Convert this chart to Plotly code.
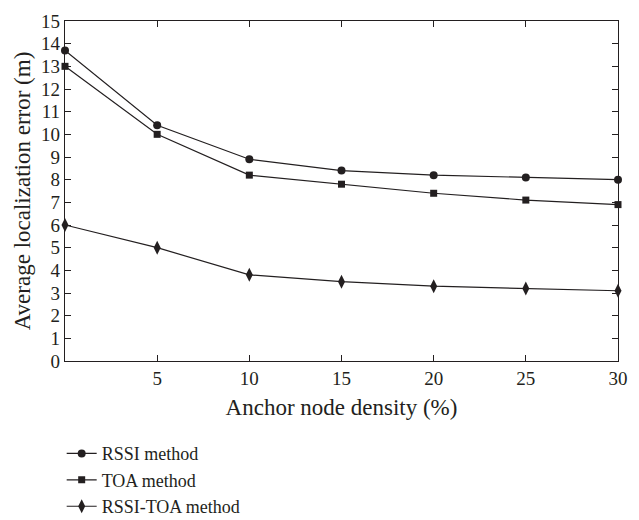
import plotly.graph_objects as go

density = [0, 5, 10, 15, 20, 25, 30]
rssi = [13.7, 10.4, 8.9, 8.4, 8.2, 8.1, 8.0]
toa = [13.0, 10.0, 8.2, 7.8, 7.4, 7.1, 6.9]
rssi_toa = [6.0, 5.0, 3.8, 3.5, 3.3, 3.2, 3.1]
x_ticks = [5, 10, 15, 20, 25, 30]
y_ticks = list(range(0, 16))

ink = "#231f20"
fig = go.Figure()
for name, ys, sym, sz in [("RSSI method", rssi, "circle", 8),
                          ("TOA method", toa, "square", 7),
                          ("RSSI-TOA method", rssi_toa, "diamond-tall", 10)]:
    fig.add_trace(go.Scatter(x=density, y=ys, name=name, mode="lines+markers",
                             line=dict(color=ink, width=1.2),
                             marker=dict(symbol=sym, size=sz, color=ink),
                             cliponaxis=False))

font = dict(family="Liberation Serif, serif", size=19, color=ink)
fig.update_layout(
    width=639, height=520,
    margin=dict(l=65, r=11, t=16, b=159),
    paper_bgcolor="white", plot_bgcolor="white",
    font=font,
    showlegend=True,
    legend=dict(x=-0.006, y=0.163, xref="paper", yref="container",
                xanchor="left", yanchor="top",
                font=dict(family="Liberation Serif, serif", size=18, color=ink),
                tracegroupgap=0, itemwidth=30, bgcolor="rgba(0,0,0,0)"),
    xaxis=dict(range=[0, 30], tickvals=x_ticks, ticks="inside", ticklen=6,
               showline=True, linecolor=ink, linewidth=1.2, mirror="ticks",
               showgrid=False, zeroline=False, tickcolor=ink,
               title=dict(text="Anchor node density (%)", standoff=10)),
    yaxis=dict(range=[0, 15], tickvals=y_ticks, ticks="inside", ticklen=6,
               showline=True, linecolor=ink, linewidth=1.2, mirror="ticks",
               showgrid=False, zeroline=False, tickcolor=ink,
               title=dict(text="Average localization error (m)", standoff=4)),
)
fig.write_html("out.html", config={"displayModeBar": False},
               post_script="document.body.style.margin='0';document.body.style.overflow='hidden';")
